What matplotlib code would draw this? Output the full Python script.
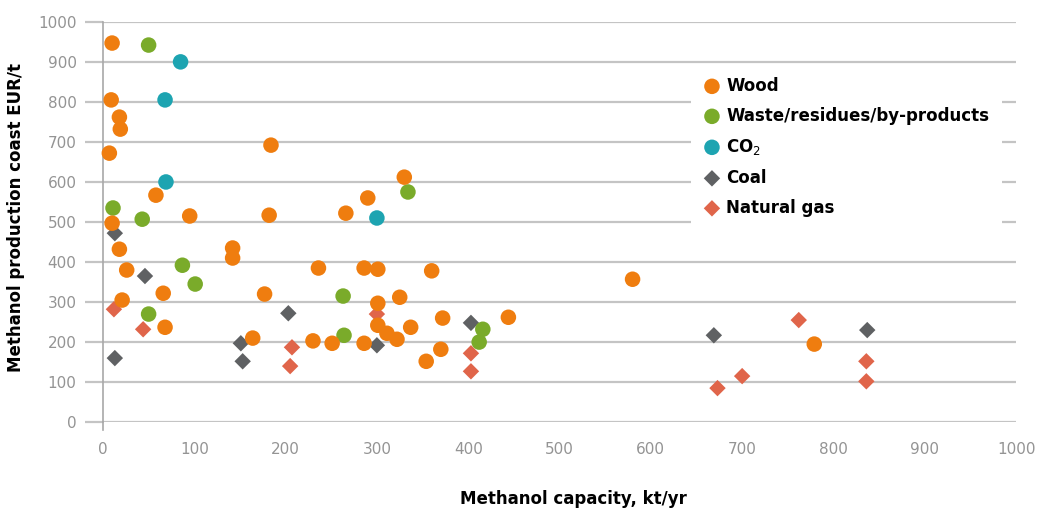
import matplotlib
matplotlib.use("Agg")
import matplotlib.pyplot as plt

# points (capacity kt/yr, cost EUR/t)
wood_x = [10, 9, 18, 19, 7, 184, 58, 95, 182, 10, 266, 330, 290, 18, 26, 21, 66, 68, 142, 142,
          177, 164, 236, 286, 301, 360, 301, 325, 301, 372, 337, 444, 230, 251, 286, 311, 322,
          370, 354, 580, 779]
wood_y = [947, 805, 762, 732, 672, 692, 567, 515, 517, 497, 522, 612, 560, 432, 380, 305, 322, 237, 435, 410,
          320, 210, 385, 385, 382, 378, 297, 312, 242, 260, 237, 262, 203, 197, 197, 222, 207,
          182, 152, 357, 195]
waste_x = [11, 43, 50, 87, 101, 50, 263, 264, 334, 416, 412]
waste_y = [535, 507, 942, 392, 345, 270, 315, 217, 575, 232, 200]
co2_x = [85, 68, 69, 300]
co2_y = [900, 805, 600, 510]
coal_x = [13, 46, 13, 203, 151, 153, 300, 403, 669, 837]
coal_y = [472, 365, 160, 272, 197, 152, 192, 248, 217, 230]
gas_x = [12, 44, 207, 205, 300, 403, 403, 762, 836, 700, 673, 836]
gas_y = [282, 232, 187, 140, 270, 172, 127, 255, 152, 115, 85, 102]

labels = ["Wood", "Waste/residues/by-products", "CO$_2$", "Coal", "Natural gas"]
colors = ["#EF7D0F", "#7AAB2A", "#1DA4B1", "#5F6163", "#E0654A"]

plt.rcParams["font.family"] = ["DejaVu Sans"]

fig = plt.figure(figsize=(10.4, 5.08), dpi=100)
ax = fig.add_axes([0.099, 0.169, 0.878, 0.788])

grid_c = "#C4C4C4"
ax.set_xlim(0, 1000)
ax.set_ylim(0, 1000)
ax.set_yticks(range(0, 1001, 100))
ax.set_xticks(range(0, 1001, 100))
ax.yaxis.grid(True, color=grid_c, linewidth=1.6, zorder=0)
ax.set_axisbelow(True)
for s in ["top", "right", "bottom"]:
    ax.spines[s].set_visible(False)
ax.spines["left"].set_color("#A8A8A8")
ax.spines["left"].set_linewidth(1.2)
ax.plot([0, 0], [-20, 0], color="#A8A8A8", lw=1.2, clip_on=False)
ax.tick_params(axis="y", length=13, width=1.6, color=grid_c, pad=6,
               labelsize=11, labelcolor="#949494")
ax.tick_params(axis="x", length=0, pad=14, labelsize=11, labelcolor="#949494")

kw = dict(edgecolors="none", clip_on=False)
ax.scatter(gas_x, gas_y, s=70, marker="D", color=colors[4], label=labels[4], zorder=3, **kw)
ax.scatter(coal_x, coal_y, s=70, marker="D", color=colors[3], label=labels[3], zorder=4, **kw)
ax.scatter(co2_x, co2_y, s=125, marker="o", color=colors[2], label=labels[2], zorder=5, **kw)
ax.scatter(waste_x, waste_y, s=125, marker="o", color=colors[1], label=labels[1], zorder=6, **kw)
ax.scatter(wood_x, wood_y, s=125, marker="o", color=colors[0], label=labels[0], zorder=7, **kw)

h, l = ax.get_legend_handles_labels()
order = [4, 3, 2, 1, 0]
leg = ax.legend([h[i] for i in order], [l[i] for i in order], loc="upper left",
                bbox_to_anchor=(0.635, 0.915), frameon=True, facecolor="white",
                edgecolor="none", framealpha=1, fancybox=False, handlelength=1.0,
                handletextpad=0.35, labelspacing=0.72, borderpad=0.75,
                prop=dict(size=12, weight="bold"))
leg.set_zorder(10)

ax.set_ylabel("Methanol production coast EUR/t", fontsize=12, fontweight="bold")
ax.yaxis.set_label_coords(-0.085, 0.51)
ax.set_xlabel("Methanol capacity, kt/yr", fontsize=12, fontweight="bold")
ax.xaxis.set_label_coords(0.515, -0.17)

fig.savefig("out.png", dpi=100)
